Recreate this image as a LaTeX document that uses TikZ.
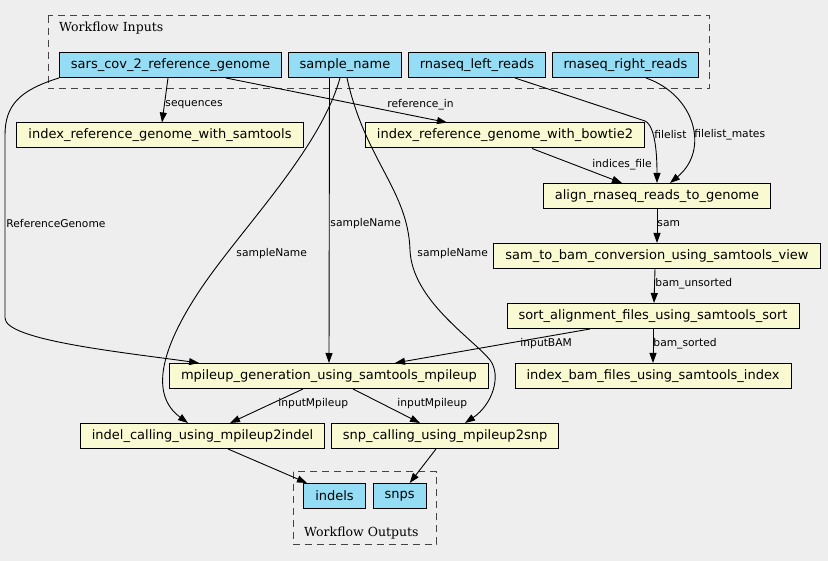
\documentclass[tikz,border=0pt]{standalone}
\usepackage{fontspec}
\setmainfont{DejaVu Sans}
\newfontfamily\clusterfont{DejaVu Serif}
\usetikzlibrary{arrows.meta}
\definecolor{bgcol}{HTML}{EEEEEE}
\definecolor{inputcol}{HTML}{94DDF4}
\definecolor{stepcol}{HTML}{FAFAD2}
\definecolor{clustercol}{HTML}{444444}
\tikzset{
  io/.style={draw=black, line width=1pt, fill=inputcol, minimum height=25pt,
    inner xsep=11.5pt, inner ysep=0pt, font=\fontsize{13}{15}\selectfont},
  stepbox/.style={io, fill=stepcol},
  edge/.style={-{Triangle[length=10pt,width=7pt]}, line width=0.9pt},
  lbl/.style={anchor=west, inner sep=0pt, font=\fontsize{10.7}{12}\selectfont},
  cluster/.style={draw=clustercol, dash pattern=on 7pt off 5pt, line width=1pt},
  clusterlbl/.style={anchor=base west, inner sep=0pt, font=\clusterfont\fontsize{12.5}{14}\selectfont},
}
\begin{document}
\begin{tikzpicture}[x=1pt,y=-1pt]
\fill[bgcol] (0,0) rectangle (828,561);
\useasboundingbox (0,0) rectangle (828,561);
% clusters
\draw[cluster] (48,15.7) rectangle (709,89);
\node[clusterlbl] (intitle) at (59,31.5) {Workflow Inputs};
\draw[cluster] (293.3,471.7) rectangle (436.7,544.3);
\node[clusterlbl] (outtitle) at (304,536) {Workflow Outputs};
% inputs
\node[io] (sars) at (170.5,65) {sars\_cov\_2\_reference\_genome};
\node[io] (samp) at (345,65) {sample\_name};
\node[io] (left) at (477,65) {rnaseq\_left\_reads};
\node[io] (right) at (625.5,65) {rnaseq\_right\_reads};
% steps
\node[stepbox] (idxs) at (160,135.5) {index\_reference\_genome\_with\_samtools};
\node[stepbox] (bt2) at (505,135.5) {index\_reference\_genome\_with\_bowtie2};
\node[stepbox] (align) at (657,196) {align\_rnaseq\_reads\_to\_genome};
\node[stepbox] (s2b) at (657,256) {sam\_to\_bam\_conversion\_using\_samtools\_view};
\node[stepbox] (sort) at (653,316) {sort\_alignment\_files\_using\_samtools\_sort};
\node[stepbox] (ibam) at (653,376) {index\_bam\_files\_using\_samtools\_index};
\node[stepbox] (mp) at (329,376) {mpileup\_generation\_using\_samtools\_mpileup};
\node[stepbox] (indel) at (202.5,436) {indel\_calling\_using\_mpileup2indel};
\node[stepbox] (snp) at (445,436) {snp\_calling\_using\_mpileup2snp};
% outputs
\node[io] (indels) at (334.5,496) {indels};
\node[io] (snps) at (399.7,496) {snps};
% connectors
\draw[edge] ([xshift=-2.5pt]sars.south) -- ([xshift=2pt]idxs.north) node[lbl] at (165,105) {sequences};
\draw[edge] ([xshift=55.5pt]sars.south) -- ([xshift=-58pt]bt2.north) node[lbl] at (387,105) {reference\_in};
\draw[edge] (sars.south west) .. controls (20,90) and (5,105) .. (5,135) -- (5,318)
  .. controls (5,340) and (120,352) .. ([xshift=30pt]mp.north west) node[lbl] at (6,224) {ReferenceGenome};
\draw[edge] ([xshift=-15.5pt]samp.south) -- (mp.north) node[lbl] at (330,224) {sampleName};
\draw[edge] ([xshift=-5pt]samp.south) .. controls (320,150) and (240,230) .. (200,290)
  .. controls (160,350) and (150,395) .. ([xshift=-14.5pt]indel.north) node[lbl] at (236,254) {sampleName};
\draw[edge] ([xshift=2pt]samp.south) .. controls (365,160) and (408,190) .. (410,250)
  .. controls (412,300) and (472,338) .. (490,360)
  .. controls (502,376) and (492,405) .. ([xshift=20pt]snp.north) node[lbl] at (417,254) {sampleName};
\draw[edge] ([xshift=38pt]left.south) -- (645,121) .. controls (652,124) and (657,140) .. (align.north)
  node[lbl] at (654,134.5) {filelist};
\draw[edge] ([xshift=20.5pt]right.south) .. controls (695,95) and (710,150) .. ([xshift=13pt]align.north)
  node[lbl] at (694,134.5) {filelist\_mates};
\draw[edge] ([xshift=27pt]bt2.south) -- ([xshift=-35pt]align.north) node[lbl] at (592,165) {indices\_file};
\draw[edge] (align.south) -- (s2b.north) node[lbl] at (657,224) {sam};
\draw[edge] ([xshift=-2pt]s2b.south) -- ([xshift=1pt]sort.north) node[lbl] at (655,284) {bam\_unsorted};
\draw[edge] (sort.south) -- (ibam.north) node[lbl] at (653,344) {bam\_sorted};
\draw[edge] ([xshift=-63pt]sort.south) -- ([xshift=66pt]mp.north) node[lbl] at (520,344) {inputBAM};
\draw[edge] ([xshift=-26pt]mp.south) -- ([xshift=27.5pt]indel.north) node[lbl] at (278,404) {inputMpileup};
\draw[edge] ([xshift=24pt]mp.south) -- ([xshift=-25pt]snp.north) node[lbl] at (397,404) {inputMpileup};
\draw[edge] ([xshift=25.5pt]indel.south) -- ([xshift=-27.5pt]indels.north);
\draw[edge] ([xshift=-9pt]snp.south) -- ([xshift=10pt]snps.north);
\end{tikzpicture}
\end{document}
